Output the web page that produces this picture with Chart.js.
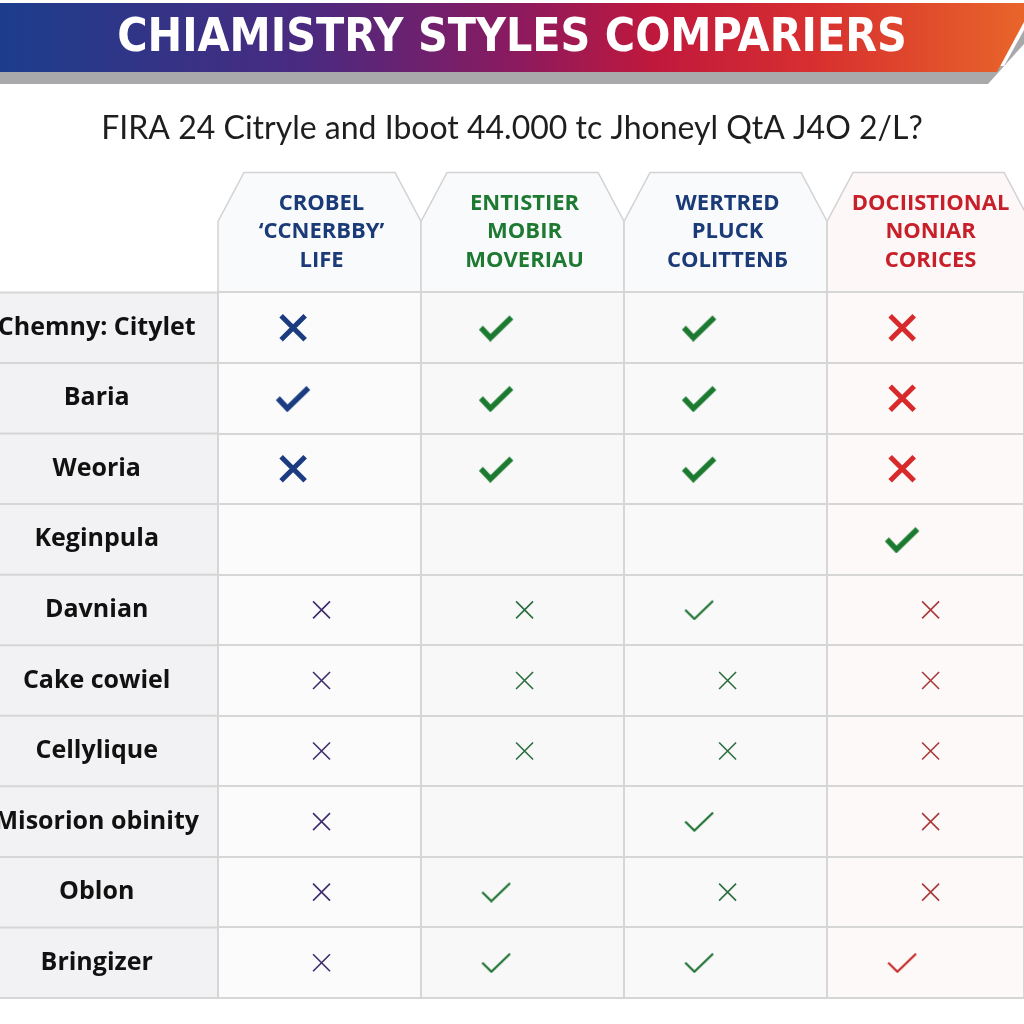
<!DOCTYPE html>
<html>
<head>
<meta charset="utf-8">
<script src="https://cdn.jsdelivr.net/npm/chart.js@4.4.1/dist/chart.umd.min.js"></script>
<style>
  html, body { margin: 0; padding: 0; background: #fff; overflow: hidden; }
</style>
</head>
<body>
<canvas id="cmp" width="1024" height="1024"></canvas>
<script>
// Table content
const titleText = 'CHIAMISTRY STYLES COMPARIERS';
const subtitleText = 'FIRA 24 Citryle and Iboot 44.000 tc Jhoneyl QtA J4O 2/L?';
const rowLabels = ['Chemny: Citylet', 'Baria', 'Weoria', 'Keginpula', 'Davnian',
  'Cake cowiel', 'Cellylique', 'Misorion obinity', 'Oblon', 'Bringizer'];
const columnHeaders = [
  ['CROBEL', '\u2018CCNERBBY\u2019', 'LIFE'],
  ['ENTISTIER', 'MOBIR', 'MOVERIAU'],
  ['WERTRED', 'PLUCK', 'COLITTEN\u0411'],
  ['DOCIISTIONAL', 'NONIAR', 'CORICES']
];
// 'yes' = check, 'no' = cross, '' = empty cell
const crobelMarks    = ['no', 'yes', 'no', '', 'no', 'no', 'no', 'no', 'no', 'no'];
const entistierMarks = ['yes', 'yes', 'yes', '', 'no', 'no', 'no', '', 'yes', 'yes'];
const wertredMarks   = ['yes', 'yes', 'yes', '', 'yes', 'no', 'no', 'yes', 'no', 'yes'];
const dociMarks      = ['no', 'no', 'no', 'yes', 'no', 'no', 'no', 'no', 'no', 'yes'];
const columnMarks = [crobelMarks, entistierMarks, wertredMarks, dociMarks];

// Styling
const heavyRows = 4; // first rows use the big marks
const headerColors = ['#1b3a78', '#1e7a32', '#1b3a78', '#c8202a'];
const markColors = [
  { heavy: { no: '#1b3c80', yes: '#1b3c80' }, light: { no: '#3f2d6e', yes: '#1d7030' } },
  { heavy: { no: '#1c7a30', yes: '#1c7a30' }, light: { no: '#2b6e3e', yes: '#1d7030' } },
  { heavy: { no: '#1c7a30', yes: '#1c7a30' }, light: { no: '#2b6e3e', yes: '#1d7030' } },
  { heavy: { no: '#d82a2a', yes: '#1c7a30' }, light: { no: '#a83a3a', yes: '#c42828' } }
];
const cellTints = ['#fbfbfc', '#f8f8f9', '#f9f9fa', '#fdf9f8'];
const headerTints = ['#f9fafc', '#f9fafb', '#f9fafc', '#fdf8f7'];
const gridColor = '#d6d6d6';
const bodyFont = "'Open Sans', 'Noto Sans', sans-serif";

const checkCache = {};
function checkImage(color, heavy) {
  const key = color + heavy;
  if (checkCache[key]) return checkCache[key];
  const w = heavy ? 36 : 30, h = heavy ? 28 : 21, lw = heavy ? 5.5 : 2.2;
  const c = document.createElement('canvas');
  c.width = w; c.height = h;
  const g = c.getContext('2d');
  g.strokeStyle = color;
  g.lineWidth = lw;
  g.lineJoin = 'miter';
  g.beginPath();
  g.moveTo(lw * 0.5, h * 0.5);
  g.lineTo(w * 0.34, h - lw * 0.7);
  g.lineTo(w - lw * 0.5, lw * 0.7);
  g.stroke();
  checkCache[key] = c;
  return c;
}

function shiftFor(mark, heavy) {
  if (heavy) return -0.13;
  return mark === 'yes' ? -0.13 : 0.01;
}

const datasets = columnMarks.map((marks, ci) => ({
  label: columnHeaders[ci].join(' '),
  data: marks.map((m, ri) => m ? {
    x: ci + 0.5 + shiftFor(m, ri < heavyRows),
    y: rowLabels[ri],
    mark: m,
    heavy: ri < heavyRows
  } : null).filter(Boolean),
  pointStyle: c => {
    const r = c.raw || {};
    if (r.mark === 'yes') return checkImage(markColors[ci][r.heavy ? 'heavy' : 'light'].yes, r.heavy);
    return 'crossRot';
  },
  pointRadius: c => (c.raw && c.raw.heavy) ? 17 : 12,
  pointBorderWidth: c => (c.raw && c.raw.heavy) ? 5 : 1.6,
  pointBorderColor: c => {
    const r = c.raw || {};
    return markColors[ci][r.heavy ? 'heavy' : 'light'][r.mark || 'no'];
  },
  pointBackgroundColor: 'transparent'
}));

const tableDecor = {
  id: 'tableDecor',
  beforeDraw(chart) {
    const { ctx, chartArea, scales: { x } } = chart;
    const W = chart.width;
    const n = rowLabels.length;
    const top = chartArea.top, bottom = chartArea.bottom;
    const rowH = (bottom - top) / n;
    ctx.save();

    // banner shadow and gradient band
    ctx.fillStyle = '#a9a9ab';
    ctx.beginPath();
    ctx.moveTo(0, 66); ctx.lineTo(1004, 66); ctx.lineTo(W, 30); ctx.lineTo(W, 44);
    ctx.lineTo(988, 84); ctx.lineTo(0, 84); ctx.closePath();
    ctx.fill();
    const grad = ctx.createLinearGradient(0, 0, W, 0);
    grad.addColorStop(0, '#1c3d8c');
    grad.addColorStop(0.3, '#4a2a80');
    grad.addColorStop(0.5, '#8a1a60');
    grad.addColorStop(0.64, '#c0183c');
    grad.addColorStop(0.8, '#d8302f');
    grad.addColorStop(1, '#e8652a');
    ctx.fillStyle = grad;
    ctx.beginPath();
    ctx.moveTo(0, 3); ctx.lineTo(W, 3); ctx.lineTo(W, 22); ctx.lineTo(997, 72);
    ctx.lineTo(0, 72); ctx.closePath();
    ctx.fill();

    // label column and cell tints
    ctx.fillStyle = '#f2f2f4';
    ctx.fillRect(0, top, chartArea.left, bottom - top);
    columnHeaders.forEach((h, i) => {
      const l = x.getPixelForValue(i), r = x.getPixelForValue(i + 1);
      ctx.fillStyle = cellTints[i];
      ctx.fillRect(l, top, r - l, bottom - top);
    });
    ctx.strokeStyle = gridColor;
    ctx.lineWidth = 2;
    for (let i = 0; i <= n; i++) {
      const yy = top + i * rowH;
      ctx.beginPath(); ctx.moveTo(0, yy); ctx.lineTo(chartArea.left, yy); ctx.stroke();
    }

    // header tabs
    const tabTop = top - 120, bevelY = top - 71, bevelX = 26;
    columnHeaders.forEach((lines, i) => {
      const l = x.getPixelForValue(i), r = x.getPixelForValue(i + 1);
      ctx.beginPath();
      ctx.moveTo(l, top); ctx.lineTo(l, bevelY); ctx.lineTo(l + bevelX, tabTop);
      ctx.lineTo(r - bevelX, tabTop); ctx.lineTo(r, bevelY); ctx.lineTo(r, top);
      ctx.fillStyle = headerTints[i];
      ctx.fill();
      ctx.strokeStyle = '#d2d2d4';
      ctx.lineWidth = 1.5;
      ctx.stroke();
      ctx.fillStyle = headerColors[i];
      ctx.font = 'bold 22px ' + bodyFont;
      ctx.textAlign = 'center';
      ctx.textBaseline = 'middle';
      lines.forEach((t, k) => ctx.fillText(t, (l + r) / 2 + 2, top - 89 + k * 28.5));
    });
    ctx.restore();
  }
};

new Chart(document.getElementById('cmp'), {
  type: 'scatter',
  data: { datasets },
  options: {
    responsive: false,
    animation: false,
    events: [],
    layout: { autoPadding: false, padding: { left: 0, right: 0, top: 0, bottom: 26 } },
    plugins: {
      legend: { display: false },
      tooltip: { enabled: false },
      title: {
        display: true,
        text: titleText,
        color: '#ffffff',
        font: { family: "'Liberation Sans Narrow', 'DejaVu Sans Condensed', sans-serif", size: 46, weight: 'bold' },
        padding: { top: 11, bottom: 21.8 }
      },
      subtitle: {
        display: true,
        text: subtitleText,
        color: '#1e1e1e',
        font: { family: "Lato, 'Open Sans', sans-serif", size: 32, weight: 'normal' },
        padding: { top: 21.5, bottom: 144.5 }
      }
    },
    scales: {
      x: {
        type: 'linear',
        min: 0,
        max: 3.97,
        position: 'bottom',
        ticks: { display: false, stepSize: 1 },
        grid: { color: gridColor, lineWidth: 2, drawTicks: false },
        border: { display: false }
      },
      y: {
        type: 'category',
        labels: rowLabels,
        offset: true,
        position: 'left',
        afterFit: s => { s.width = 218; s.paddingTop = 0; s.paddingBottom = 0; },
        grid: { offset: true, color: gridColor, lineWidth: 2, drawTicks: false },
        border: { display: false },
        ticks: {
          crossAlign: 'center',
          padding: 19,
          color: '#111111',
          font: { family: bodyFont, size: 25, weight: 'bold' }
        }
      }
    }
  },
  plugins: [tableDecor]
});
</script>
</body>
</html>
